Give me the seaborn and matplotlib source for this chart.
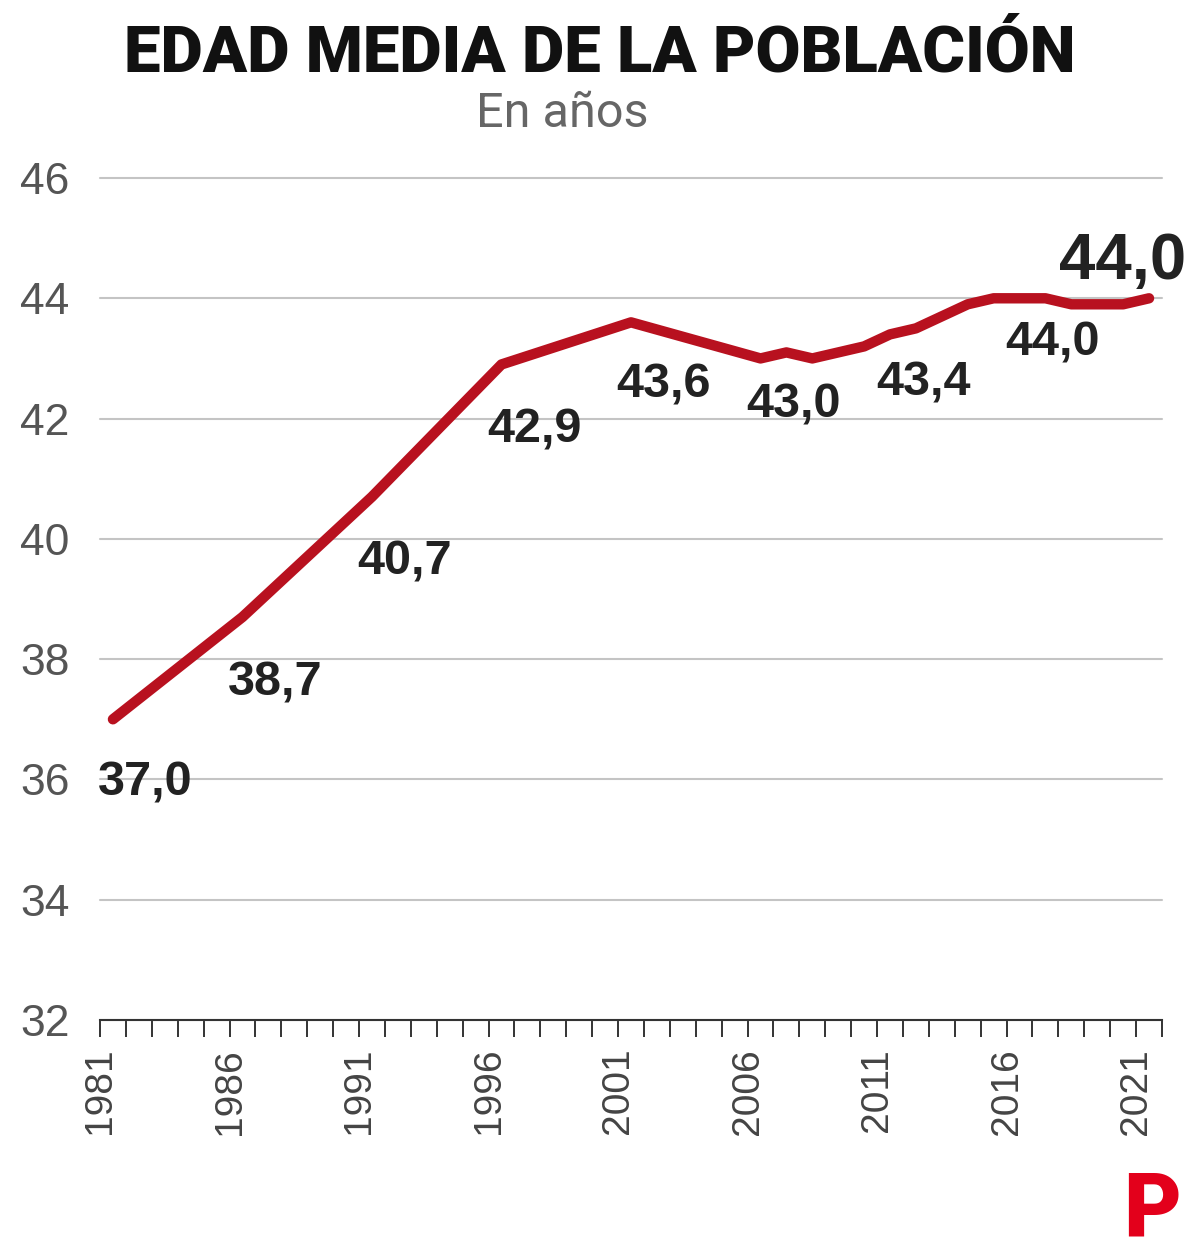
import matplotlib
matplotlib.use("Agg")
import matplotlib.pyplot as plt
import numpy as np
import pandas as pd
import seaborn as sns

# Data
years = [1981, 1986, 1991, 1996, 2001, 2006, 2007, 2008, 2009, 2010, 2011,
         2012, 2013, 2014, 2015, 2016, 2017, 2018, 2019, 2020, 2021]
ages = [37.0, 38.7, 40.7, 42.9, 43.6, 43.0, 43.1, 43.0, 43.1, 43.2, 43.4,
        43.5, 43.7, 43.9, 44.0, 44.0, 44.0, 43.9, 43.9, 43.9, 44.0]
label_years = [1981, 1986, 1991, 1996, 2001, 2006, 2011, 2016]
last_year = 2021

TITLE = "EDAD MEDIA DE LA POBLACIÓN"
SUBTITLE = "En años"

LINE_COLOR = "#b8111f"
LOGO_RED = "#e3001b"

sns.set_theme(style="white")
plt.rcParams["font.family"] = ["Liberation Sans", "DejaVu Sans"]

df = pd.DataFrame({"year": years, "age": ages})
df["xpos"] = df["year"] + 0.5  # points sit in the middle of each year slot

W, H = 1200, 1253
fig = plt.figure(figsize=(W / 100, H / 100), dpi=100)
ax = fig.add_axes([100 / W, 233 / H, 1062 / W, 842 / H])

sns.lineplot(data=df, x="xpos", y="age", ax=ax, color=LINE_COLOR,
             linewidth=7.5, solid_capstyle="round", solid_joinstyle="round")

# axes
ax.set_xlim(1981, 2022)
ax.set_ylim(32, 46)
ax.set_xticks(range(1981, 2022, 5))
ax.set_xticks(range(1981, 2023), minor=True)
ax.set_yticks(range(32, 47, 2))
ax.set_xlabel("")
ax.set_ylabel("")

ax.tick_params(axis="x", which="both", length=12, width=1.4, color="#333333",
               direction="out", bottom=True)
ax.tick_params(axis="x", which="major", pad=8, labelsize=28,
               labelrotation=90, labelcolor="#444444")
ax.tick_params(axis="y", length=0, pad=22, labelsize=32, labelcolor="#555555")

ax.yaxis.grid(True, color="#c4c4c4", linewidth=1.5)
ax.xaxis.grid(False)
for gl in ax.get_ygridlines():
    gl.set_clip_on(False)

for side in ["top", "right", "left"]:
    ax.spines[side].set_visible(False)
ax.spines["bottom"].set_color("#333333")
ax.spines["bottom"].set_linewidth(1.5)
ax.spines["bottom"].set_zorder(3)

# value labels
fmt = lambda v: f"{v:.1f}".replace(".", ",")
label_offsets = {1981: (32, -64), 1986: (33, -66), 1991: (33, -65),
                 1996: (33, -66), 2001: (33, -63), 2006: (33, -47),
                 2011: (33, -49), 2016: (33, -45)}
for yr in label_years:
    row = df.loc[df["year"] == yr].iloc[0]
    ax.annotate(fmt(row["age"]), (row["xpos"], row["age"]),
                xytext=label_offsets[yr], textcoords="offset pixels",
                ha="center", va="center", fontsize=35, fontweight="bold",
                color="#222222", annotation_clip=False)

row = df.loc[df["year"] == last_year].iloc[0]
ax.annotate(fmt(row["age"]), (row["xpos"], row["age"]),
            xytext=(-26, 36), textcoords="offset pixels",
            ha="center", va="center", fontsize=47, fontweight="bold",
            color="#222222", annotation_clip=False)

# titles
fig.text(0.5, 1 - 71 / H, TITLE, ha="center", va="baseline",
         fontsize=47, fontweight="black", family=["Roboto", "DejaVu Sans"],
         color="#111111")
fig.text(562 / W, 1 - 127 / H, SUBTITLE, ha="center", va="baseline",
         fontsize=35, fontweight="normal", family=["Roboto", "DejaVu Sans"],
         color="#666666")

# logo
fig.text(1152 / W, 1 - 1236 / H, "P", ha="center", va="baseline",
         fontsize=64, fontweight="black", family=["Roboto", "DejaVu Sans"],
         color=LOGO_RED)

fig.savefig("out.png", dpi=100)
